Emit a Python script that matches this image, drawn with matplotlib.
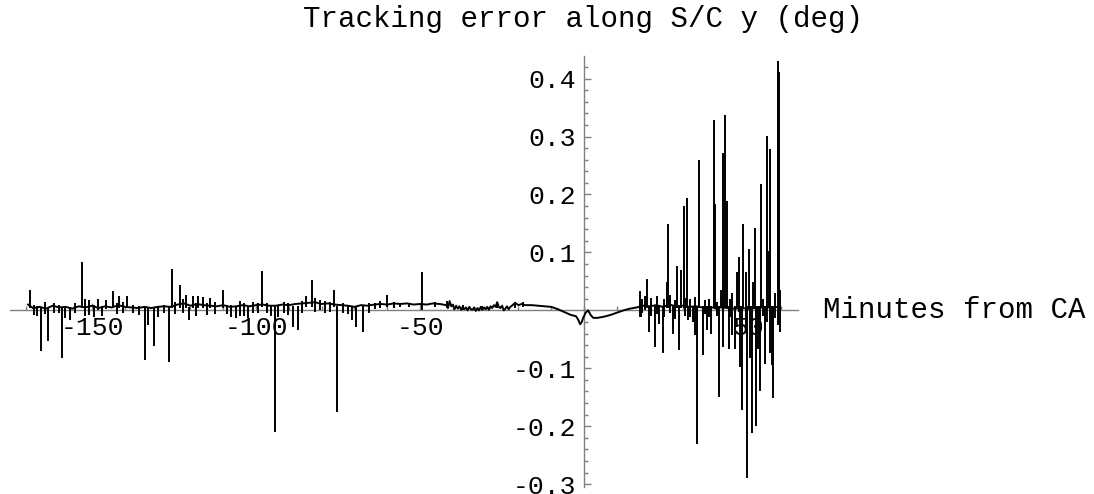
"""Tracking error along S/C y, Mathematica-style axes through the origin."""

import matplotlib
matplotlib.use('Agg')
import matplotlib.pyplot as plt
from matplotlib.ticker import FixedLocator, MultipleLocator, FuncFormatter

plt.rcParams['font.family'] = ['Liberation Mono', 'DejaVu Sans Mono']
plt.rcParams['axes.unicode_minus'] = False

# slowly varying trace (minutes from CA, deg)
t_base = [-169.5, -168, -166, -164, -162, -160, -158, -156, -154, -152, -150,
          -148, -146, -144, -142, -140, -138, -136, -134, -132, -130, -128,
          -126, -124, -122, -120, -118, -116, -114, -112, -110, -108, -106,
          -104, -102, -100, -98, -96, -94, -92, -90, -88, -86, -84, -82, -80,
          -78, -76, -74, -72, -70, -68, -66, -64, -62, -60, -58, -56, -54,
          -52, -50, -48, -46, -44,
          -42, -41.5, -41, -40.5, -40, -39.5, -39, -38.5, -38, -37.5,
          -37, -36.5, -36, -35.5, -35, -34.5, -34, -33.5, -33, -32.5,
          -32, -31.5, -31, -30.5, -30, -29.5, -29, -28.5, -28, -27.5,
          -27, -26.5, -26, -25.5, -25, -24.5, -24, -23.5, -23, -22.5,
          -22, -21, -20, -19,
          -18, -16, -14, -12, -10, -8, -6, -4, -2.5, -1.8, -1.2, -0.7, -0.3,
          0.5, 1.2, 2.0, 2.8, 4, 6, 8, 10, 12, 14, 16, 18, 20, 22, 24, 26,
          28, 30, 32, 34, 36, 38, 40, 42, 44, 46, 48, 50, 52, 54, 56, 58,
          59.8]
y_base = [0.010, 0.004, 0.006, 0.003, 0.008, 0.005, 0.006, 0.003, 0.007,
          0.005, 0.008, 0.004, 0.007, 0.005, 0.009, 0.006, 0.005, 0.004,
          0.006, 0.004, 0.006, 0.007, 0.006, 0.010, 0.012, 0.008, 0.011,
          0.009, 0.008, 0.007, 0.009, 0.006, 0.007, 0.009, 0.007, 0.009,
          0.010, 0.008, 0.008, 0.010, 0.009, 0.011, 0.012, 0.013, 0.014,
          0.011, 0.012, 0.010, 0.009, 0.008, 0.006, 0.009, 0.008, 0.010,
          0.011, 0.010, 0.012, 0.011, 0.012, 0.010, 0.011, 0.010, 0.012,
          0.011,
          0.009, 0.004, 0.016, 0.007, 0.010, 0.002, 0.008, 0.003, 0.007,
          0.001, 0.006, 0.002, 0.005, 0.000, 0.006, 0.002, 0.001, 0.005,
          -0.001, 0.004, 0.000, 0.006, 0.001, 0.005, 0.002, 0.006, 0.001,
          0.007, 0.004, 0.009, 0.006, 0.014, 0.006, 0.004, 0.008, 0.000,
          0.003, 0.007, 0.002, 0.006, 0.008, 0.013, 0.009, 0.011,
          0.009, 0.009, 0.008, 0.007, 0.006, 0.002, -0.003, -0.008, -0.010,
          -0.016, -0.024, -0.020, -0.013, -0.004, 0.000, -0.008, -0.013,
          -0.013, -0.011, -0.008, -0.004, 0.000, 0.003, 0.005, 0.008, 0.007,
          0.009, 0.006, 0.010, 0.007, 0.008, 0.006, 0.007, 0.005, 0.006,
          0.004, 0.005, 0.004, 0.003, 0.004, 0.003, 0.004, 0.005, 0.005,
          0.006, 0.005]

# single-sample glitches: time, lowest and highest value reached
spk_t = [-168.9, -167.8, -166.9, -165.5, -164.4, -163.3, -161.5, -160.2,
         -159.1, -158.2, -156.7, -155.2, -153.0, -152.0, -150.8, -149.5,
         -148.3, -147.0, -145.8, -143.6, -142.5, -141.8, -140.6, -139.4,
         -137.5, -135.8, -133.7, -133.0, -131.0, -129.8, -128.2, -126.6,
         -125.6, -124.6, -123.2, -122.2, -121.3, -120.4, -119.1, -118.3,
         -117.6, -116.1, -115.0, -114.0, -112.5, -110.2, -109.0, -107.5,
         -106.0, -105.0, -103.8, -102.6, -101.0, -99.5, -98.2, -96.8, -95.3,
         -94.2, -93.3, -91.6, -90.4, -88.7, -87.2, -86.0, -84.8, -83.0,
         -82.0, -80.5, -79.0, -77.5, -76.3, -75.2, -73.5, -72.0, -70.8,
         -69.4, -67.5, -65.5, -63.8, -62.2, -60.0, -58.0, -56.0, -53.5,
         -49.4, -45.5, -41.9, -37.0, -31.0, -26.6, -21.0, -18.6,
         16.9, 17.3, 17.8, 18.5, 19.1, 19.8, 20.4, 21.5, 22.2, 22.8, 23.9,
         24.5, 25.2, 25.6, 26.3, 27.0, 27.7, 28.3, 29.0, 29.5, 30.4, 30.9,
         31.3, 31.6, 32.4, 33.1, 33.9, 34.5, 34.9, 35.1, 36.1, 36.8, 37.4,
         38.1, 38.7, 39.5, 39.9, 40.5, 41.1, 41.7, 42.3, 43.1, 43.6, 44.1,
         44.6, 45.1, 46.1, 46.6, 47.1, 47.6, 48.1, 48.4, 49.3, 49.6, 50.2,
         50.7, 51.1, 51.6, 52.1, 52.3, 53.0, 53.5, 54.0, 54.6, 55.2, 55.6,
         55.9, 56.3, 56.7, 57.2, 57.5, 58.2, 59.0, 59.5, 59.8]
spk_lo = [0.004, -0.008, -0.010, -0.070, -0.006, -0.053, -0.004, -0.005,
          -0.082, -0.014, -0.016, -0.004, 0.004, -0.010, -0.008, -0.012,
          0.000, -0.010, 0.002, 0.004, -0.006, 0.004, -0.004, 0.004,
          -0.004, -0.008, -0.085, -0.026, -0.062, -0.012, -0.004, -0.089,
          0.004, -0.006, 0.004, -0.004, 0.004, -0.016, 0.004, -0.010,
          0.004, 0.004, -0.008, 0.004, -0.006, 0.004, -0.006, -0.012,
          -0.014, -0.010, -0.010, -0.014, -0.004, -0.004, 0.006, -0.004,
          -0.010, -0.210, -0.012, -0.004, -0.008, -0.028, -0.034, -0.004,
          0.006, 0.006, -0.002, 0.000, -0.004, -0.002, 0.006, -0.175,
          -0.004, -0.006, -0.016, -0.028, -0.038, -0.004, 0.002, 0.004,
          0.006, 0.004, 0.006, 0.006, 0.000, 0.006, 0.004, 0.000, 0.000,
          0.004, 0.004, 0.006,
          -0.011, -0.011, -0.004, 0.000, 0.004, -0.037, -0.010, -0.063,
          -0.006, -0.023, -0.074, -0.012, 0.004, 0.004, -0.004, -0.040,
          -0.015, 0.004, -0.069, 0.004, 0.004, -0.010, 0.004, -0.017,
          -0.012, -0.020, -0.043, -0.230, 0.004, 0.004, -0.077, -0.006,
          -0.034, -0.012, -0.040, 0.004, 0.004, -0.010, -0.150, 0.004,
          -0.063, 0.004, 0.004, -0.066, -0.012, -0.043, -0.066, 0.004,
          -0.003, -0.097, -0.172, 0.004, -0.037, -0.289, 0.004, -0.083,
          -0.212, 0.004, 0.004, -0.200, -0.066, -0.140, 0.004, -0.010,
          -0.092, 0.004, -0.020, 0.004, -0.074, -0.094, -0.152, -0.014,
          -0.026, 0.004, -0.037]
spk_hi = [0.036, 0.010, 0.008, 0.006, 0.014, 0.006, 0.012, 0.010, 0.006,
          0.006, 0.006, 0.012, 0.083, 0.020, 0.018, 0.010, 0.020, 0.008,
          0.018, 0.034, 0.012, 0.024, 0.014, 0.024, 0.010, 0.008, 0.006,
          0.006, 0.006, 0.008, 0.010, 0.006, 0.072, 0.014, 0.044, 0.020,
          0.027, 0.006, 0.025, 0.012, 0.025, 0.023, 0.012, 0.022, 0.014,
          0.035, 0.010, 0.010, 0.008, 0.016, 0.012, 0.008, 0.014, 0.012,
          0.068, 0.012, 0.010, 0.008, 0.010, 0.014, 0.012, 0.008, 0.008,
          0.016, 0.024, 0.052, 0.022, 0.018, 0.016, 0.014, 0.035, 0.008,
          0.012, 0.010, 0.008, 0.008, 0.008, 0.012, 0.012, 0.017, 0.027,
          0.014, 0.012, 0.013, 0.066, 0.014, 0.017, 0.010, 0.008, 0.015,
          0.013, 0.015,
          0.034, 0.010, 0.020, 0.025, 0.054, 0.008, 0.022, 0.008, 0.024,
          0.008, 0.008, 0.020, 0.049, 0.149, 0.026, 0.008, 0.018, 0.077,
          0.008, 0.069, 0.180, 0.022, 0.194, 0.008, 0.020, 0.008, 0.023,
          0.008, 0.260, 0.103, 0.008, 0.018, 0.008, 0.020, 0.008, 0.329,
          0.183, 0.015, 0.008, 0.035, 0.272, 0.338, 0.189, 0.008, 0.020,
          0.030, 0.008, 0.066, 0.092, 0.008, 0.008, 0.149, 0.066, 0.008,
          0.106, 0.008, 0.008, 0.049, 0.143, 0.008, 0.008, 0.008, 0.218,
          0.020, 0.008, 0.301, 0.008, 0.103, 0.279, 0.008, 0.008, 0.030,
          0.430, 0.412, 0.036]

x_major = [-150, -100, -50, 50]
y_major = [-0.3, -0.2, -0.1, 0.1, 0.2, 0.3, 0.4]

fig = plt.figure(figsize=(10.94, 4.94), dpi=100)
ax = fig.add_axes([10 / 1094, 7.5 / 494, 788 / 1094, 430.5 / 494])

ax.plot(t_base, y_base, color='black', lw=1.4, zorder=3)
ax.vlines(spk_t, spk_lo, spk_hi, color='black', lw=1.4, zorder=3)

ax.set_xlim(-175, 65.2)
ax.set_ylim(-0.304, 0.439)

for side in ['top', 'right']:
    ax.spines[side].set_visible(False)
for side in ['left', 'bottom']:
    ax.spines[side].set_position(('data', 0))
    ax.spines[side].set_color('#808080')
    ax.spines[side].set_linewidth(1.0)
    ax.spines[side].set_zorder(1)

ax.xaxis.set_major_locator(FixedLocator(x_major))
ax.xaxis.set_minor_locator(MultipleLocator(10))
ax.yaxis.set_major_locator(FixedLocator(y_major))
ax.yaxis.set_minor_locator(MultipleLocator(0.02))
ax.xaxis.set_major_formatter(FuncFormatter(lambda v, p: '%g' % v))
ax.yaxis.set_major_formatter(FuncFormatter(lambda v, p: '%g' % round(v, 2)))

ax.tick_params(which='both', direction='in', color='#808080', width=1.0,
               labelsize=19, labelcolor='black')
ax.tick_params(which='major', length=5)
ax.tick_params(which='minor', length=3)
ax.tick_params(axis='x', pad=4)
ax.tick_params(axis='y', pad=6)
ax.patch.set_visible(False)

fig.text(583 / 1094, 1 - 27 / 494, 'Tracking error along S/C y (deg)',
         ha='center', va='baseline', fontsize=21)
fig.text(823 / 1094, 1 - 318 / 494, 'Minutes from CA',
         ha='left', va='baseline', fontsize=21)

fig.savefig('out.png', dpi=100, facecolor='white')
plt.close()
